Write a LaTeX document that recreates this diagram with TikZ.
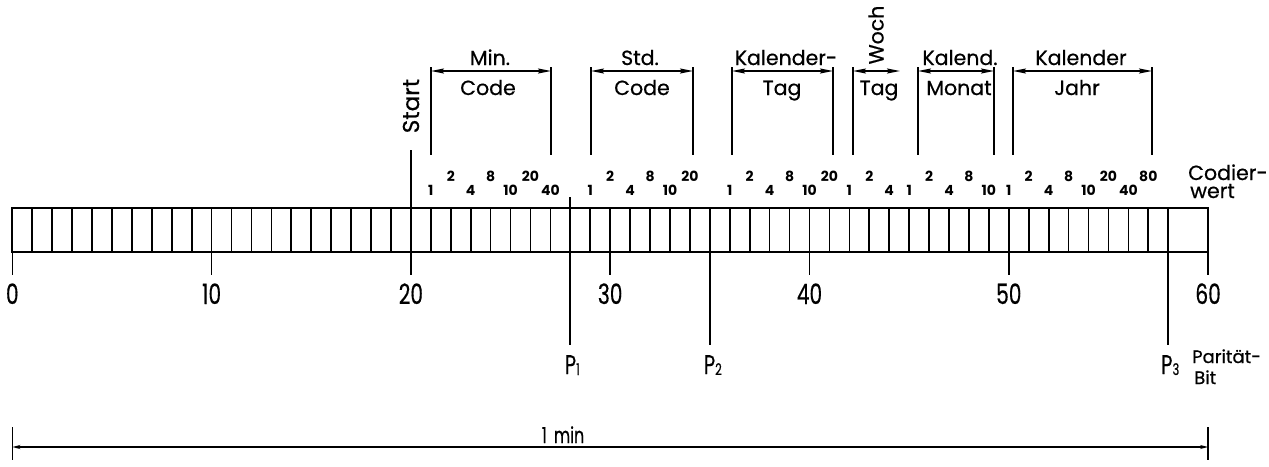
\documentclass[tikz,border=0pt]{standalone}
\usepackage{fontspec}
\setmainfont{Poppins}[FakeBold=0.6]
\newfontfamily\condfont{Poppins}[FakeStretch=0.72,FakeBold=0.4]
\newfontfamily\codefont{Poppins}
\usetikzlibrary{arrows.meta}
\newcommand{\ftop}{\fontsize{20.5}{22}\selectfont}
\newcommand{\fcode}{\codefont\bfseries\fontsize{14}{15}\selectfont}
\newcommand{\fbig}{\condfont\fontsize{28}{30}\selectfont}
\newcommand{\fpl}{\condfont\fontsize{27}{28}\selectfont}
\newcommand{\fpsub}{\condfont\fontsize{16}{16}\selectfont}
\newcommand{\fsmall}{\fontsize{18}{19}\selectfont}
\newcommand{\fmin}{\condfont\fontsize{22}{24}\selectfont}
\begin{document}
\begin{tikzpicture}[x=1pt,y=-1pt,
  barline/.style={line width=2pt},
  divline/.style={line width=1.7pt},
  tickline/.style={line width=1.6pt},
  pline/.style={line width=2.2pt},
  brk/.style={line width=1.4pt},
  dimarrow/.style={line width=1.3pt,{Stealth[length=13pt,width=5pt,inset=2pt]}-{Stealth[length=13pt,width=5pt,inset=2pt]}},
  minarrow/.style={line width=1.5pt,{Stealth[length=8pt,width=4pt]}-{Stealth[length=8pt,width=4pt]}},
  toplab/.style={inner sep=0pt,font=\ftop},
  codelab/.style={inner sep=0pt,font=\fcode},
  numlab/.style={inner sep=0pt,font=\fbig},
  plab/.style={inner sep=0pt,font=\fpl},
  smalllab/.style={inner sep=0pt,font=\fsmall}]
\useasboundingbox (0,0) rectangle (1269,466);
\def\xo{12.3}
\def\u{19.93}
% grid coordinates
\foreach \n in {0,...,60}{
  \coordinate (t\n) at ({\xo+\n*\u},208);
  \coordinate (d\n) at ({\xo+\n*\u},252);
}
% bar
\draw[barline] (t0) rectangle (d60);
\foreach \n in {1,...,58}{\draw[divline] (t\n) -- (d\n);}
% scale ticks and numbers
\foreach \n in {0,10,...,60}{
  \coordinate (k\n) at ({\xo+\n*\u},275);
  \draw[tickline] (d\n) -- (k\n);
  \node[numlab,anchor=base] (num\n) at ({\xo+\n*\u},304) {\n};
}
% start
\coordinate (stt) at ({\xo+20*\u},150);
\draw[divline] (stt) -- (t20);
\node[toplab,rotate=90,font=\fontsize{23}{24}\selectfont] (start) at (411,106) {Start};
% parity lines
\coordinate (p1u) at ({\xo+28*\u},197);
\draw[divline] (p1u) -- (t28);
\foreach \n/\k in {28/1,35/2,58/3}{
  \coordinate (pb\k) at ({\xo+\n*\u},345);
  \draw[pline] (d\n) -- (pb\k);
}
\node[plab,anchor=base] (P1) at ([xshift=2pt]pb1|-0,374) {P{\fpsub\raisebox{-1pt}{1}}};
\node[plab,anchor=base] (P2) at ([xshift=3pt]pb2|-0,374) {P{\fpsub\raisebox{-1pt}{2}}};
\node[plab,anchor=base] (P3) at ([xshift=2pt]pb3|-0,374) {P{\fpsub\raisebox{-1pt}{3}}};
\node[smalllab,anchor=base west] (par1) at (1192,363) {Parität-};
\node[smalllab,anchor=base west] (par2) at (1194,384) {Bit};
% Codierwert
\node[toplab,anchor=base west] (cw1) at (1188,180) {Codier-};
\node[toplab,anchor=base west] (cw2) at (1190,198) {wert};
% code values
\foreach \n/\v/\h in {21/1/0,22/2/1,23/4/0,24/8/1,25/10/0,26/20/1,27/40/0,
                      29/1/0,30/2/1,31/4/0,32/8/1,33/10/0,34/20/1,
                      36/1/0,37/2/1,38/4/0,39/8/1,40/10/0,41/20/1,
                      42/1/0,43/2/1,44/4/0,
                      45/1/0,46/2/1,47/4/0,48/8/1,49/10/0,
                      50/1/0,51/2/1,52/4/0,53/8/1,54/10/0,55/20/1,56/40/0,57/80/1}{
  \pgfmathsetmacro{\yy}{\h==1 ? 181 : 195}
  \node[codelab,anchor=base] (cv\n) at ({\xo+\n*\u},\yy) {\v};
}
% brackets
\foreach \nm/\l/\r in {min/431/551,std/591/693,tag/732/833,mon/918/994,jahr/1013/1152}{
  \coordinate (\nm Lt) at (\l,67); \coordinate (\nm Lb) at (\l,155);
  \coordinate (\nm Rt) at (\r,67); \coordinate (\nm Rb) at (\r,155);
  \coordinate (\nm La) at (\l,71); \coordinate (\nm Ra) at (\r,71);
  \draw[brk] (\nm Lt) -- (\nm Lb);
  \draw[brk] (\nm Rt) -- (\nm Rb);
  \draw[dimarrow] (\nm La) -- (\nm Ra);
}
\coordinate (wLt) at (853,67); \coordinate (wLb) at (853,155);
\coordinate (wLa) at (853,71); \coordinate (wRa) at (900,71);
\draw[brk] (wLt) -- (wLb);
\draw[dimarrow] (wLa) -- (wRa);
% bracket labels
\node[toplab,anchor=base] (l1) at (490,65) {Min.};
\node[toplab,anchor=base] (l2) at (488,95) {Code};
\node[toplab,anchor=base] (l3) at (640,65) {Std.};
\node[toplab,anchor=base] (l4) at (642,95) {Code};
\node[toplab,anchor=base] (l5) at (786,65) {Kalender-};
\node[toplab,anchor=base] (l6) at (782,95) {Tag};
\node[toplab,rotate=90] (l7) at (876,35) {Woch};
\node[toplab,anchor=base] (l8) at (879,95) {Tag};
\node[toplab,anchor=base] (l9) at (960,65) {Kalend.};
\node[toplab,anchor=base] (l10) at (959,95) {Monat};
\node[toplab,anchor=base] (l11) at (1081,65) {Kalender};
\node[toplab,anchor=base] (l12) at (1077,95) {Jahr};
% 1 min
\coordinate (mLt) at (t0|-0,427); \coordinate (mLb) at (t0|-0,460);
\coordinate (mRt) at (t60|-0,427); \coordinate (mRb) at (t60|-0,460);
\coordinate (mLa) at (t0|-0,447); \coordinate (mRa) at (t60|-0,447);
\draw[brk] (mLt) -- (mLb);
\draw[brk] (mRt) -- (mRb);
\draw[minarrow] (mLa) -- (mRa);
\node[inner sep=0pt,font=\fmin,anchor=base] (onemin) at (563,443) {1\hspace{7pt}min};
\end{tikzpicture}
\end{document}
